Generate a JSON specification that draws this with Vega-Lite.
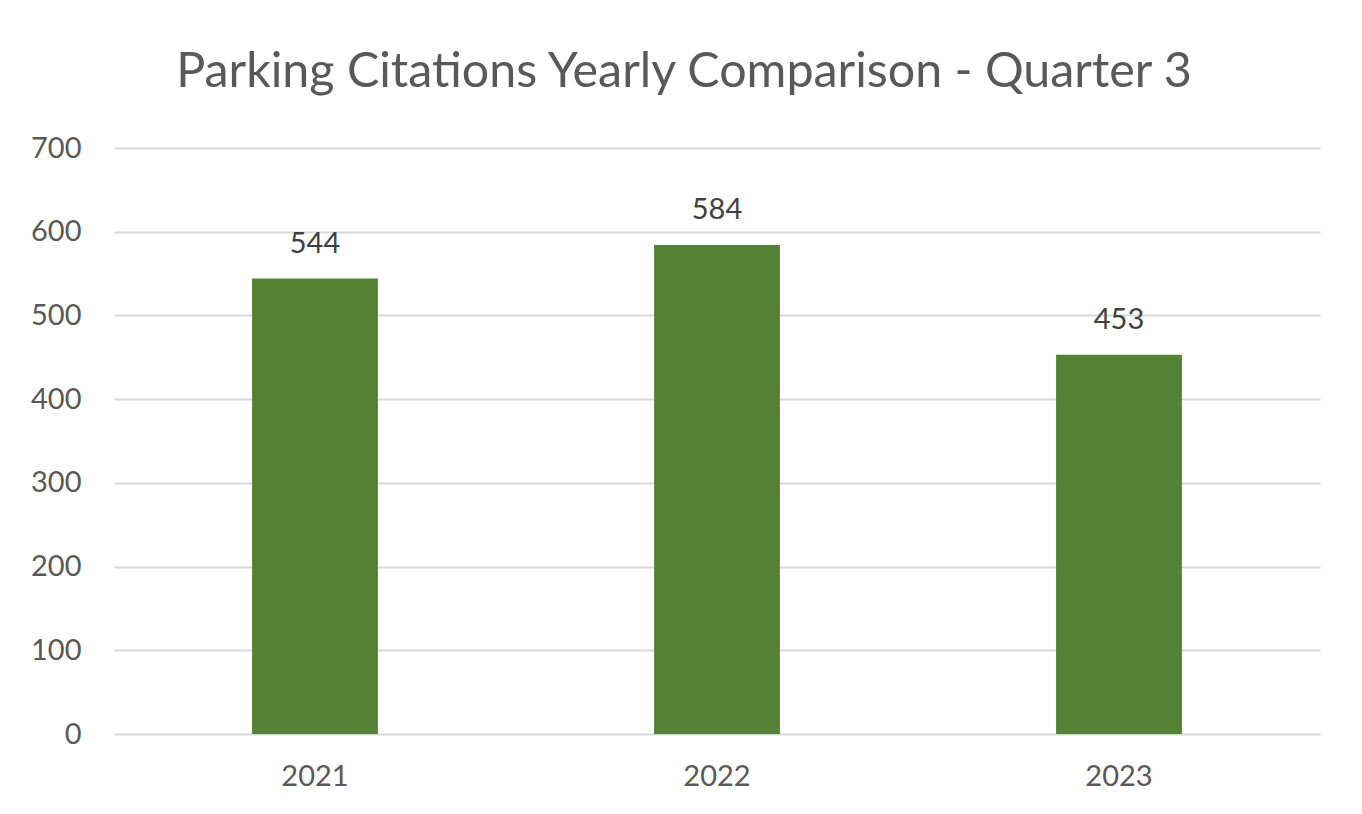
{
  "$schema": "https://vega.github.io/schema/vega-lite/v6.json",
  "width": 1206,
  "height": 586,
  "autosize": {"type": "none"},
  "padding": {"left": 114, "top": 148, "right": 42, "bottom": 80},
  "background": "white",
  "title": {
    "text": "Parking Citations Yearly Comparison - Quarter 3",
    "font": "Lato",
    "fontSize": 48.4,
    "fontWeight": "normal",
    "color": "#595959",
    "anchor": "middle",
    "dx": -33,
    "offset": 37
  },
  "data": {
    "values": [
      {"year": "2021", "citations": 544},
      {"year": "2022", "citations": 584},
      {"year": "2023", "citations": 453}
    ]
  },
  "config": {
    "view": {"stroke": null},
    "axis": {"labelFont": "Lato", "labelFontSize": 29, "labelColor": "#595959"}
  },
  "encoding": {
    "x": {
      "field": "year",
      "type": "nominal",
      "scale": {"paddingInner": 0.687, "paddingOuter": 0.3435},
      "axis": {"title": null, "labelAngle": 0, "domain": false, "ticks": false, "labelPadding": 28}
    },
    "y": {
      "field": "citations",
      "type": "quantitative",
      "scale": {"domain": [0, 700], "nice": false},
      "axis": {
        "title": null,
        "values": [0, 100, 200, 300, 400, 500, 600, 700],
        "domain": false,
        "ticks": false,
        "labelPadding": 33,
        "gridColor": "#d9d9d9",
        "gridWidth": 2
      }
    }
  },
  "layer": [
    {"mark": {"type": "bar", "color": "#548235"}},
    {
      "mark": {"type": "text", "font": "Lato", "fontSize": 29, "color": "#404040", "baseline": "alphabetic", "dy": -26},
      "encoding": {"text": {"field": "citations", "type": "quantitative"}}
    }
  ]
}
